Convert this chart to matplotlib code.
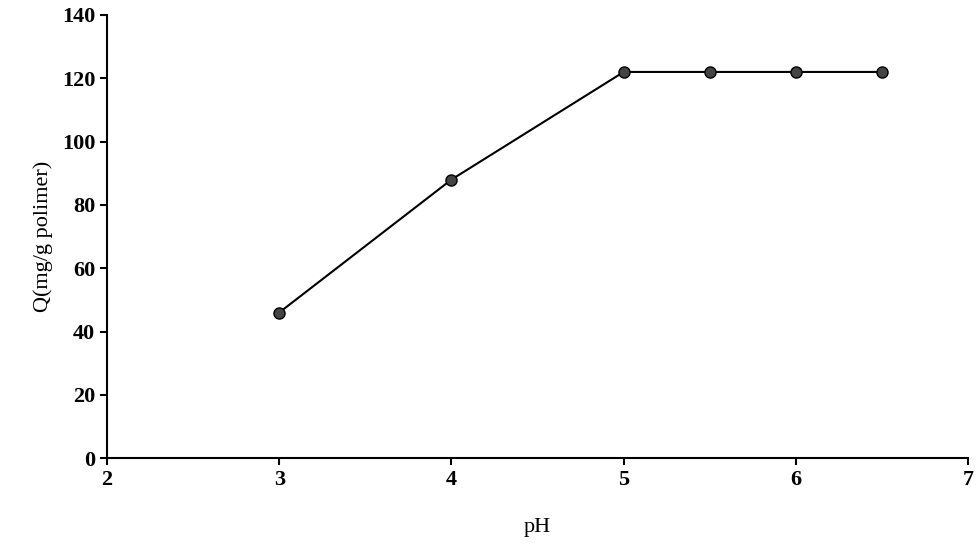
import matplotlib.pyplot as plt

ph = [3, 4, 5, 5.5, 6, 6.5]
q = [46, 88, 122, 122, 122, 122]

plt.rcParams['font.family'] = ['Liberation Serif', 'DejaVu Serif']
fig = plt.figure(figsize=(9.77, 5.54), dpi=100)
ax = fig.add_axes([0.1095, 0.173, 0.8815, 0.8])
ax.plot(ph, q, color='black', lw=1.5, marker='o', markersize=8,
        markerfacecolor='#444444', markeredgecolor='black')
ax.set_xlim(2, 7)
ax.set_ylim(0, 140)
ax.set_xticks(range(2, 8))
ax.set_yticks(range(0, 141, 20))
for s in ['top', 'right']:
    ax.spines[s].set_visible(False)
for s in ['left', 'bottom']:
    ax.spines[s].set_linewidth(1.5)
ax.tick_params(direction='out', length=5, width=1.5, labelsize=16)
for t in ax.get_xticklabels() + ax.get_yticklabels():
    t.set_fontweight('bold')
ax.set_xlabel('pH', fontsize=16, labelpad=20)
ax.set_ylabel('Q(mg/g polimer)', fontsize=16, labelpad=6)
fig.savefig('out.png')
